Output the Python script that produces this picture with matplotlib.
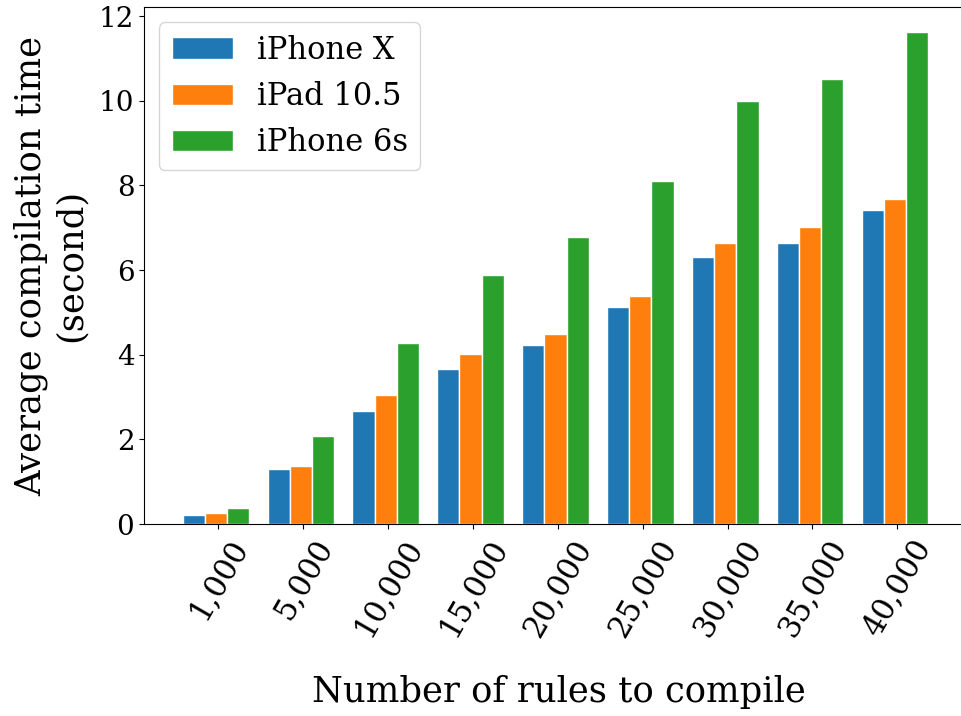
import matplotlib
matplotlib.use('Agg')
import matplotlib.pyplot as plt
import numpy as np

rule_counts = ["1,000", "5,000", "10,000", "15,000", "20,000", "25,000", "30,000", "35,000", "40,000"]
iphone_x = [0.22, 1.30, 2.68, 3.67, 4.22, 5.14, 6.32, 6.65, 7.41]
ipad_105 = [0.27, 1.38, 3.05, 4.03, 4.49, 5.38, 6.63, 7.01, 7.67]
iphone_6s = [0.39, 2.09, 4.27, 5.88, 6.79, 8.11, 9.99, 10.52, 11.63]
device_names = ["iPhone X", "iPad 10.5", "iPhone 6s"]

plt.rcParams['font.family'] = 'DejaVu Serif'
plt.rcParams['font.size'] = 20

fig = plt.figure(figsize=(9.62, 7.16), dpi=100)
# the right edge of the axes is cut off by the figure, as in the original
ax = fig.add_axes([0.1497, 0.268, 0.8624, 0.722])
ax.spines['right'].set_visible(False)

ind = np.arange(len(rule_counts))
width = 0.262
shift = -0.027  # groups sit a little left of their ticks
for i, (vals, name) in enumerate(zip([iphone_x, ipad_105, iphone_6s], device_names)):
    ax.bar(ind + shift + (i - 1) * width, vals, width, label=name,
           color=f"C{i}", edgecolor='white', linewidth=1)

ax.set_xlim(-0.875, 8.9)
ax.set_xticks(ind)
ax.set_xticklabels(rule_counts, rotation=60, fontsize=22)
ax.set_xlabel("Number of rules to compile", fontsize=25.5, labelpad=24)
ax.set_ylabel("Average compilation time\n(second)", fontsize=25.5, labelpad=8)
ax.legend(loc='upper left', fontsize=22)

fig.savefig("out.png", dpi=100)
